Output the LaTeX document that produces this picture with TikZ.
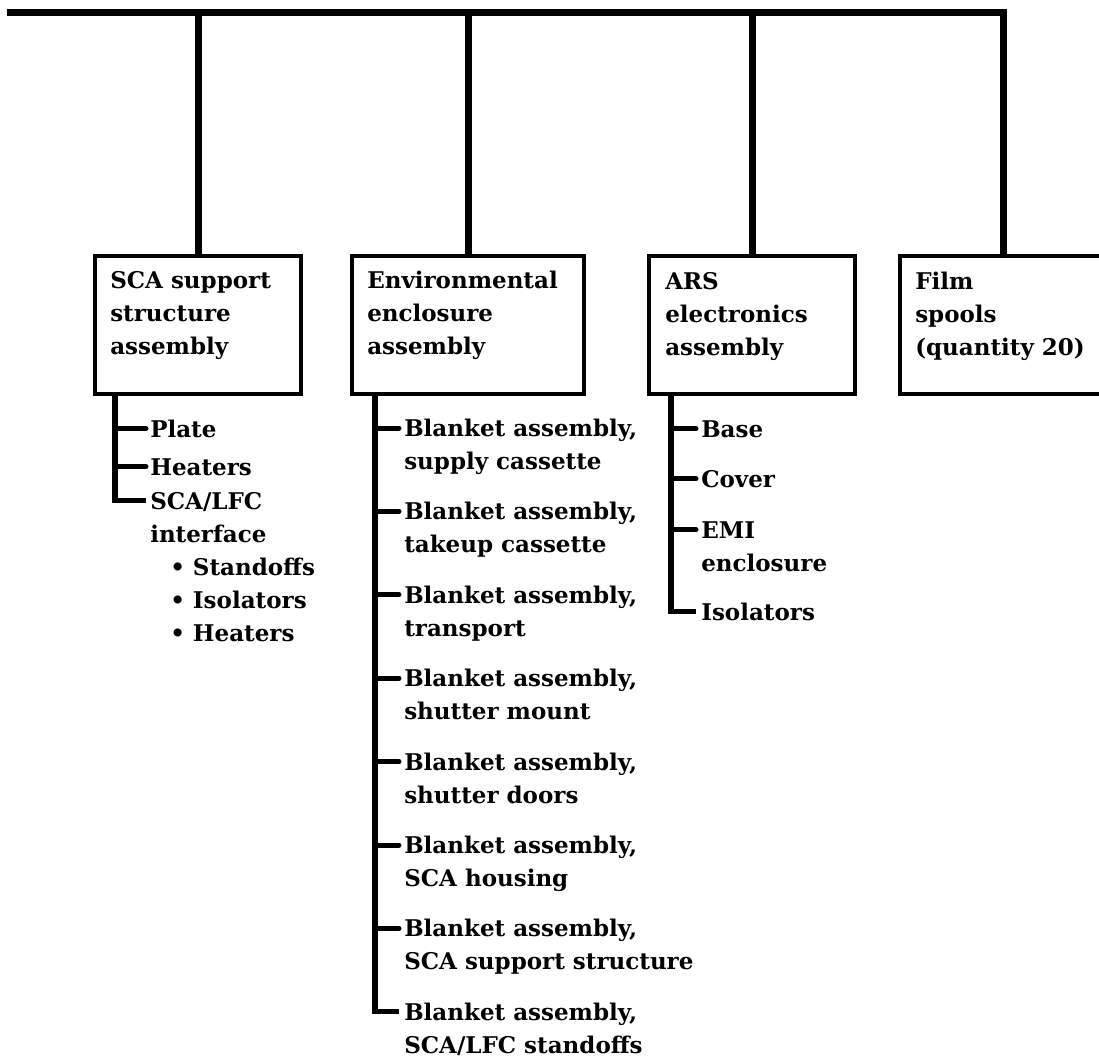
\documentclass[tikz,border=0pt]{standalone}
\usepackage{fontspec}
\setmainfont{DejaVu Serif}
\newcommand\mylines[1]{\begin{tabular}[t]{@{}l@{}}#1\end{tabular}}
\begin{document}
\begin{tikzpicture}[x=0.75pt,y=-0.75pt,
  boxst/.style={draw,line width=2.6pt,minimum width=#1,minimum height=103.5pt,inner sep=0pt},
  txt/.style={inner sep=0pt,anchor=base west,font=\fontsize{17.25pt}{24.75pt}\selectfont\bfseries},
  bus/.style={line width=5.25pt,line join=miter},
  tree/.style={line width=4pt,line join=miter},
  stub/.style={line width=3.75pt,line cap=round}]
\useasboundingbox (0,0) rectangle (1099,1061);
% boxes
\node[boxst=154.5pt] (b1) at (198,325) {};
\node[boxst=174pt] (b2) at (468,325) {};
\node[boxst=154.5pt] (b3) at (752,325) {};
\node[boxst=154.5pt] (b4) at (1003,325) {};
\node[txt] (t1) at (110,288) {\mylines{SCA support\\structure\\assembly}};
\node[txt] (t2) at (367,288) {\mylines{Environmental\\enclosure\\assembly}};
\node[txt] (t3) at (665,289) {\mylines{ARS\\electronics\\assembly}};
\node[txt] (t4) at (915,289) {\mylines{Film\\spools\\(quantity 20)}};
% bus
\coordinate (busL) at (7,12.5);
\draw[bus] (busL) -- (busL -| b4.north) -- (b4.north);
\draw[bus] (busL -| b1.north) -- (b1.north);
\draw[bus] (busL -| b2.north) -- (b2.north);
\draw[bus] (busL -| b3.north) -- (b3.north);
% tree 1
\coordinate (r1) at (115,394);
\node[txt] (p1) at (150,437) {Plate};
\node[txt] (p2) at (150,475) {Heaters};
\node[txt] (p3) at (150,509) {\mylines{SCA/LFC\\interface\\\hspace*{15pt}• Standoffs\\\hspace*{15pt}• Isolators\\\hspace*{15pt}• Heaters}};
\coordinate (p1e) at ([shift={(-4,-8.4)}]p1.base west);
\coordinate (p2e) at ([shift={(-4,-8.4)}]p2.base west);
\coordinate (p3e) at ([shift={(-4,-8.4)}]p3.base west);
\draw[tree] (r1) -- (r1 |- p3e) -- (p3e);
\draw[stub] (r1 |- p1e) -- (p1e);
\draw[stub] (r1 |- p2e) -- (p2e);
% tree 2
\coordinate (r2) at (375,394);
\node[txt] (e1) at (404,436.4) {\mylines{Blanket assembly,\\supply cassette}};
\node[txt] (e2) at (404,519.8) {\mylines{Blanket assembly,\\takeup cassette}};
\node[txt] (e3) at (404,603.2) {\mylines{Blanket assembly,\\transport}};
\node[txt] (e4) at (404,686.6) {\mylines{Blanket assembly,\\shutter mount}};
\node[txt] (e5) at (404,770) {\mylines{Blanket assembly,\\shutter doors}};
\node[txt] (e6) at (404,853.4) {\mylines{Blanket assembly,\\SCA housing}};
\node[txt] (e7) at (404,936.8) {\mylines{Blanket assembly,\\SCA support structure}};
\node[txt] (e8) at (404,1020.2) {\mylines{Blanket assembly,\\SCA/LFC standoffs}};
\foreach \i in {1,...,8}{\coordinate (e\i e) at ([shift={(-5,-8.4)}]e\i.base west);}
\draw[tree] (r2) -- (r2 |- e8e) -- (e8e);
\foreach \i in {1,...,7}{\draw[stub] (r2 |- e\i e) -- (e\i e);}
% tree 3
\coordinate (r3) at (671,394);
\node[txt] (a1) at (701,437) {Base};
\node[txt] (a2) at (701,487) {Cover};
\node[txt] (a3) at (701,538) {\mylines{EMI\\enclosure}};
\node[txt] (a4) at (701,620) {Isolators};
\foreach \i in {1,...,4}{\coordinate (a\i e) at ([shift={(-5,-8.4)}]a\i.base west);}
\draw[tree] (r3) -- (r3 |- a4e) -- (a4e);
\foreach \i in {1,...,3}{\draw[stub] (r3 |- a\i e) -- (a\i e);}
\end{tikzpicture}
\end{document}
